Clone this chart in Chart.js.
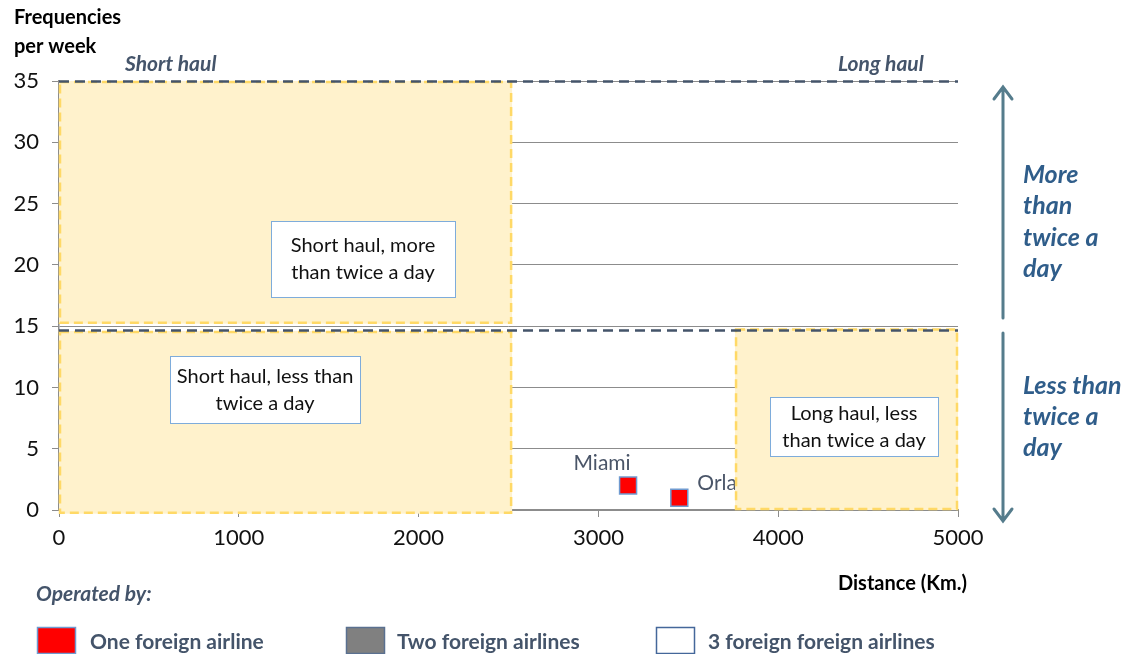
<!DOCTYPE html>
<html><head><meta charset="utf-8">
<script src="https://cdn.jsdelivr.net/npm/chart.js@4"></script>
<style>html,body{margin:0;padding:0;background:#fff;}#wrap{width:1134px;height:654px;position:relative;}</style>
</head><body><div id="wrap"><canvas id="c" width="1134" height="654"></canvas></div>
<script>
// ---- data ----
const cities = ['Miami', 'Orlando'];
const distanceKm = [3165, 3450];
const freqPerWeek = [2, 1];
const seriesNames = ['One foreign airline', 'Two foreign airlines', '3 foreign foreign airlines'];
const regionNames = ['Short haul, more|than twice a day', 'Short haul, less than|twice a day', 'Long haul, less|than twice a day'];
const regionX0 = [0, 0, 3760];
const regionX1 = [2520, 2520, 5000];
const regionY0 = [15.2, -0.3, 0];
const regionY1 = [35, 14.6, 14.8];
const thresholdY = [35, 14.7];
const xMin = 0, xMax = 5000, xStep = 1000;
const yMin = 0, yMax = 35, yStep = 5;

// ---- layout / style (not data) ----
const FONT = 'Lato, "Open Sans", sans-serif';
const labelBoxes = [ // centre in data coords, size in px
  {cx: 1691, cy: 20.5, w: 184, h: 76},
  {cx: 1146, cy: 9.8, w: 190, h: 67},
  {cx: 4422, cy: 6.8, w: 168, h: 59}
];
const cityLabelOffsets = [{dx: -26, dy: -22}, {dx: 18, dy: -15}];

const overlay = {
  id: 'overlay',
  beforeDatasetsDraw(chart) {
    const {ctx, scales: {x, y}} = chart;
    ctx.save();
    // city labels (drawn first so the regions cover them)
    ctx.font = '21px ' + FONT;
    ctx.fillStyle = '#4a5568';
    ctx.textBaseline = 'middle';
    cities.forEach((c, i) => {
      const px = x.getPixelForValue(distanceKm[i]), py = y.getPixelForValue(freqPerWeek[i]);
      const o = cityLabelOffsets[i];
      ctx.textAlign = i === 0 ? 'center' : 'left';
      ctx.fillText(c, px + o.dx, py + o.dy);
    });
    // regions
    regionNames.forEach((n, i) => {
      const l = x.getPixelForValue(regionX0[i]), r = x.getPixelForValue(regionX1[i]);
      const t = y.getPixelForValue(regionY1[i]), b = y.getPixelForValue(regionY0[i]);
      ctx.fillStyle = '#FFF2CC';
      ctx.fillRect(l, t, r - l, b - t);
      ctx.setLineDash([9, 5]);
      ctx.lineWidth = 2.5;
      ctx.strokeStyle = '#FFD966';
      ctx.strokeRect(l + 1, t + 1, r - l - 2, b - t - 2);
    });
    // threshold dashed lines
    ctx.setLineDash([10, 6]);
    ctx.lineWidth = 2.5;
    ctx.strokeStyle = '#44546A';
    thresholdY.forEach(v => {
      const py = Math.round(y.getPixelForValue(v)) + 0.5;
      ctx.beginPath();
      ctx.moveTo(x.getPixelForValue(xMin), py);
      ctx.lineTo(x.getPixelForValue(xMax), py);
      ctx.stroke();
    });
    ctx.setLineDash([]);
    // label boxes
    regionNames.forEach((n, i) => {
      const b = labelBoxes[i];
      const cx = x.getPixelForValue(b.cx), cy = y.getPixelForValue(b.cy);
      const l = Math.round(cx - b.w / 2) + 0.5, t = Math.round(cy - b.h / 2) + 0.5;
      ctx.fillStyle = '#fff';
      ctx.fillRect(l, t, b.w, b.h);
      ctx.strokeStyle = '#7EACDB';
      ctx.lineWidth = 1;
      ctx.strokeRect(l, t, b.w, b.h);
      ctx.fillStyle = '#111';
      ctx.font = '20px ' + FONT;
      ctx.textAlign = 'center';
      ctx.textBaseline = 'middle';
      const lines = n.split('|');
      lines.forEach((ln, k) => ctx.fillText(ln, cx, cy + (k - (lines.length - 1) / 2) * 27));
    });
    ctx.restore();
  },
  afterDraw(chart) {
    const {ctx} = chart;
    ctx.save();
    ctx.textBaseline = 'middle';
    ctx.textAlign = 'left';
    // y title
    ctx.fillStyle = '#000';
    ctx.font = 'bold 20px ' + FONT;
    ctx.fillText('Frequencies', 14, 18);
    ctx.fillText('per week', 14, 47);
    // haul titles
    ctx.fillStyle = '#44546A';
    ctx.font = 'italic bold 21px ' + FONT;
    ctx.fillText('Short haul', 125, 64);
    ctx.fillText('Long haul', 838, 64);
    // x title
    ctx.fillStyle = '#000';
    ctx.font = 'bold 20px ' + FONT;
    ctx.fillText('Distance (Km.)', 838, 584);
    // operated by
    ctx.fillStyle = '#44546A';
    ctx.font = 'italic bold 21px ' + FONT;
    ctx.fillText('Operated by:', 36, 594);
    // legend from datasets
    const lx = [37, 346, 656], tx = [90, 397, 708];
    chart.data.datasets.forEach((ds, i) => {
      ctx.fillStyle = ds.backgroundColor;
      ctx.fillRect(lx[i], 627, 38, 26);
      ctx.strokeStyle = ds.borderColor;
      ctx.lineWidth = 1.5;
      ctx.strokeRect(lx[i] + 0.5, 627.5, 38, 26);
      ctx.fillStyle = '#44546A';
      ctx.font = 'bold 21px ' + FONT;
      ctx.fillText(ds.label, tx[i], 642);
    });
    // right arrow
    const ax = 1003;
    ctx.strokeStyle = '#557C8C';
    ctx.lineWidth = 3;
    ctx.lineCap = 'round';
    ctx.beginPath();
    ctx.moveTo(ax, 88); ctx.lineTo(ax, 318);
    ctx.moveTo(ax, 333); ctx.lineTo(ax, 520);
    ctx.moveTo(ax - 9, 99); ctx.lineTo(ax, 87); ctx.lineTo(ax + 9, 99);
    ctx.moveTo(ax - 9, 509); ctx.lineTo(ax, 521); ctx.lineTo(ax + 9, 509);
    ctx.stroke();
    ctx.fillStyle = '#2F5D8A';
    ctx.font = 'italic bold 25px ' + FONT;
    ['More', 'than', 'twice a', 'day'].forEach((s, k) => ctx.fillText(s, 1023, 175 + k * 31.3));
    ['Less than', 'twice a', 'day'].forEach((s, k) => ctx.fillText(s, 1023, 386 + k * 31));
    ctx.restore();
  }
};

new Chart(document.getElementById('c'), {
  type: 'scatter',
  data: {
    datasets: [
      {label: seriesNames[0], data: distanceKm.map((d, i) => ({x: d, y: freqPerWeek[i]})),
       backgroundColor: '#FF0000', borderColor: '#6F9AD0', borderWidth: 1.5, pointStyle: 'rect', pointRadius: 12, pointHoverRadius: 12},
      {label: seriesNames[1], data: [], backgroundColor: '#808080', borderColor: '#5A7090', pointStyle: 'rect'},
      {label: seriesNames[2], data: [], backgroundColor: '#FFFFFF', borderColor: '#44679A', pointStyle: 'rect'}
    ]
  },
  options: {
    responsive: false,
    animation: false,
    clip: false,
    layout: {padding: {left: 0, right: 176, top: 81, bottom: 104}},
    plugins: {legend: {display: false}, tooltip: {enabled: false}},
    scales: {
      x: {
        type: 'linear', min: xMin, max: xMax,
        ticks: {stepSize: xStep, color: '#111', font: {family: FONT, size: 22}, padding: 8, maxRotation: 0,
                callback: v => String(v)},
        grid: {drawOnChartArea: false, drawTicks: true, tickLength: 7, color: '#8c8c8c'},
        border: {color: '#8c8c8c', width: 2},
        afterFit(s) { s.height = 40; }
      },
      y: {
        min: yMin, max: yMax,
        ticks: {stepSize: yStep, color: '#111', font: {family: FONT, size: 22}, padding: 13,
                callback: v => String(v)},
        grid: {color: '#8c8c8c', tickLength: 7},
        border: {color: '#8c8c8c', width: 1.5},
        afterFit(s) { s.width = 59; }
      }
    }
  },
  plugins: [overlay]
});
</script>
</body></html>
